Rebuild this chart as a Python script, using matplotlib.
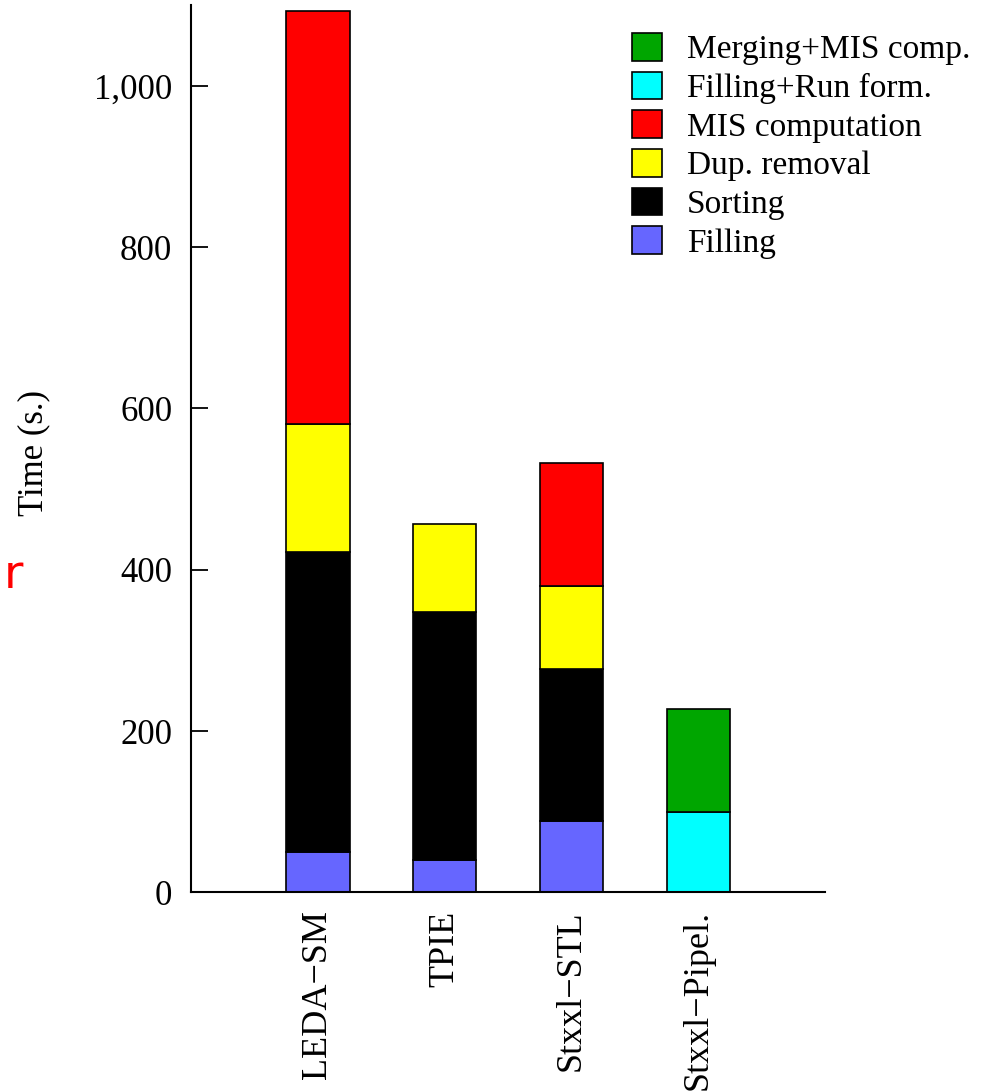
import numpy as np
import matplotlib
matplotlib.use("Agg")
import matplotlib.pyplot as plt
from matplotlib.ticker import FuncFormatter, MultipleLocator

# Running time breakdown per implementation (seconds); None = phase not present
SYSTEMS = ["LEDA\u2212SM", "TPIE", "Stxxl\u2212STL", "Stxxl\u2212Pipel."]
FILLING = [50, 40, 88, None]
SORTING = [372, 308, 189, None]
DUP_REMOVAL = [159, 109, 103, None]
MIS_COMP = [512, None, 152, None]
FILL_RUN = [None, None, None, 100]
MERGE_MIS = [None, None, None, 127]

# stacking order, bottom to top
PHASES = [
    ("Filling", FILLING, "#6666ff"),
    ("Sorting", SORTING, "#000000"),
    ("Dup. removal", DUP_REMOVAL, "#ffff00"),
    ("MIS computation", MIS_COMP, "#ff0000"),
    ("Filling+Run form.", FILL_RUN, "#00ffff"),
    ("Merging+MIS comp.", MERGE_MIS, "#00a600"),
]

plt.rcParams.update({
    "font.family": ["Liberation Serif", "DejaVu Serif"],
    "font.size": 25,
})

fig = plt.figure(figsize=(9.83, 10.91), dpi=100)
ax = fig.add_axes([191 / 983, 1 - 892.3 / 1091, 634 / 983, 887 / 1091])

x = np.arange(1, len(SYSTEMS) + 1)
bottom = np.zeros(len(SYSTEMS))
handles = {}
for label, vals, color in PHASES:
    v = np.array([np.nan if a is None else a for a in vals], dtype=float)
    ok = np.isfinite(v)
    h = ax.bar(x[ok], v[ok], width=0.5, bottom=bottom[ok], color=color,
               edgecolor="black", linewidth=1.2, label=label)
    handles[label] = h
    bottom[ok] += v[ok]

ax.set_xlim(0, 5)
ax.set_ylim(0, 1100)
ax.yaxis.set_major_locator(MultipleLocator(200))
ax.yaxis.set_major_formatter(FuncFormatter(lambda v, _: f"{v:,.0f}"))
ax.set_xticks(x)
ax.set_xticklabels(SYSTEMS, rotation=90, va="top", ha="center", fontsize=26)
ax.tick_params(axis="x", length=0, pad=13)
ax.tick_params(axis="y", direction="in", length=12, width=1.3, pad=13.5)
for s in ("top", "right"):
    ax.spines[s].set_visible(False)
for s in ("left", "bottom"):
    ax.spines[s].set_linewidth(1.5)

ax.set_ylabel("Time (s.)")
ax.yaxis.set_label_coords(-0.222, 0.495)

order = ["Merging+MIS comp.", "Filling+Run form.", "MIS computation",
         "Dup. removal", "Sorting", "Filling"]
fig.legend([handles[k] for k in order], order, loc="upper left",
           bbox_to_anchor=(632 / 983, 1 - 33 / 1091), frameon=False,
           fontsize=24, handlelength=0.9, handleheight=0.9,
           handletextpad=0.75, labelspacing=0.19, borderpad=0,
           borderaxespad=0)

fig.text(4 / 983, 1 - 588 / 1091, "r", color="red", fontsize=34,
         family="DejaVu Sans", ha="left", va="baseline")

fig.savefig("out.png", dpi=100, facecolor="white")
